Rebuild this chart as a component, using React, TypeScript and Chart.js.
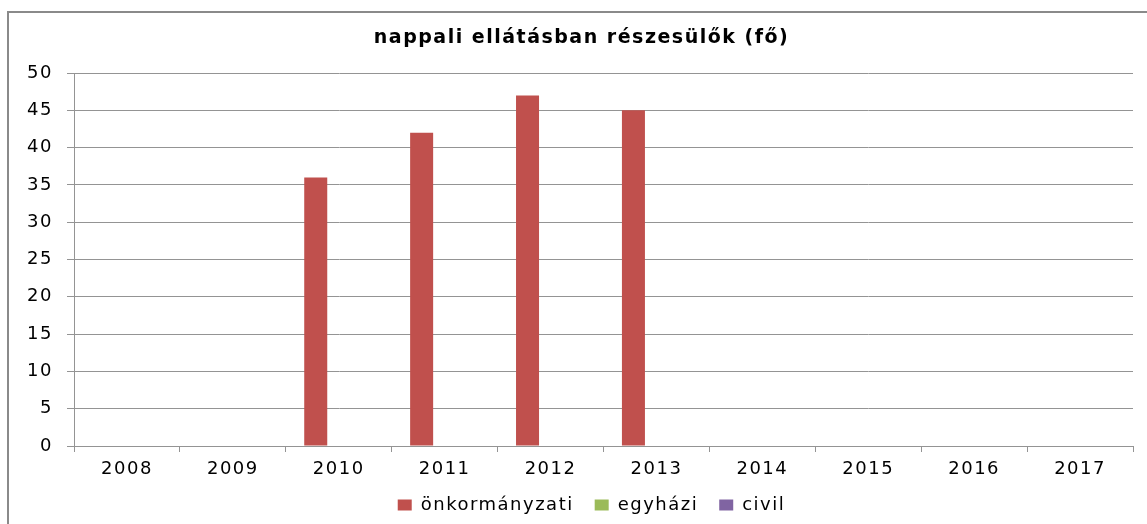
import React, { useEffect, useRef } from "react";
import { Chart, registerables } from "chart.js";

Chart.register(...registerables);

const categories = ["2008", "2009", "2010", "2011", "2012", "2013", "2014", "2015", "2016", "2017"];
const onkormanyzati = [0, 0, 36, 42, 47, 45, 0, 0, 0, 0];
const egyhazi = [0, 0, 0, 0, 0, 0, 0, 0, 0, 0];
const civil = [0, 0, 0, 0, 0, 0, 0, 0, 0, 0];
const seriesNames = ["önkormányzati", "egyházi", "civil"];
const seriesColors = ["#C0504D", "#9BBB59", "#8064A2"];
const titleText = "nappali ellátásban részesülők (fő)";
const yMin = 0;
const yMax = 50;
const yStep = 5;

const GRID = "#949494";
const FONT = "'DejaVu Sans', Verdana, sans-serif";
const SPACING = "1.5px";

const deckPlugin = {
  id: "deck",
  beforeUpdate(chart: any) {
    chart.ctx.letterSpacing = SPACING;
  },
  afterLayout(chart: any) {
    const t = chart.titleBlock;
    if (t) {
      t.left += 15;
      t.right += 15;
    }
    const l = chart.legend;
    if (l) {
      l.left += 25;
      l.right += 25;
    }
  },
  beforeDraw(chart: any) {
    const ctx = chart.ctx;
    ctx.letterSpacing = SPACING;
    ctx.save();
    ctx.fillStyle = "#ffffff";
    ctx.fillRect(0, 0, chart.width, chart.height);
    ctx.fillStyle = "#8a8a8a";
    ctx.fillRect(7, 11, 2, chart.height - 11);
    ctx.fillRect(7, 11, chart.width - 7, 2);
    ctx.restore();
  },
};

export default function App() {
  const ref = useRef<HTMLCanvasElement | null>(null);

  useEffect(() => {
    if (!ref.current) return;
    const data = [onkormanyzati, egyhazi, civil];
    const chart = new Chart(ref.current, {
      type: "bar",
      data: {
        labels: categories,
        datasets: seriesNames.map((name, i) => ({
          label: name,
          data: data[i],
          backgroundColor: seriesColors[i],
          borderWidth: 0,
          categoryPercentage: 0.652,
          barPercentage: 1,
        })),
      },
      options: {
        responsive: false,
        animation: false,
        devicePixelRatio: 1,
        layout: { padding: { left: 0, right: 14, top: 0, bottom: 0 } },
        plugins: {
          title: {
            display: true,
            text: titleText,
            color: "#000000",
            font: { family: FONT, size: 19, weight: "bold" },
            padding: { top: 27, bottom: 23.2 },
          },
          legend: {
            display: true,
            position: "bottom",
            labels: {
              boxWidth: 14,
              boxHeight: 11,
              padding: 21,
              color: "#000000",
              font: { family: FONT, size: 18 },
            },
          },
          tooltip: { enabled: false },
        },
        scales: {
          x: {
            grid: {
              display: true,
              drawOnChartArea: false,
              drawTicks: true,
              tickLength: 6,
              color: GRID,
              offset: true,
            },
            border: { display: true, color: GRID },
            ticks: {
              color: "#000000",
              font: { family: FONT, size: 18 },
              padding: 7,
              maxRotation: 0,
              autoSkip: false,
            },
            afterFit(scale: any) {
              scale.height = 29;
            },
          },
          y: {
            min: yMin,
            max: yMax,
            grid: {
              color: GRID,
              drawTicks: true,
              tickLength: 7,
            },
            border: { display: true, color: GRID },
            ticks: {
              stepSize: yStep,
              color: "#000000",
              font: { family: FONT, size: 18 },
              padding: 14,
            },
            afterFit(scale: any) {
              scale.width = 74;
            },
          },
        },
      },
      plugins: [deckPlugin],
    } as any);
    return () => chart.destroy();
  }, []);

  return (
    <canvas
      ref={ref}
      width={1147}
      height={524}
      style={{ position: "fixed", left: 0, top: 0, width: 1147, height: 524, display: "block" }}
    />
  );
}
